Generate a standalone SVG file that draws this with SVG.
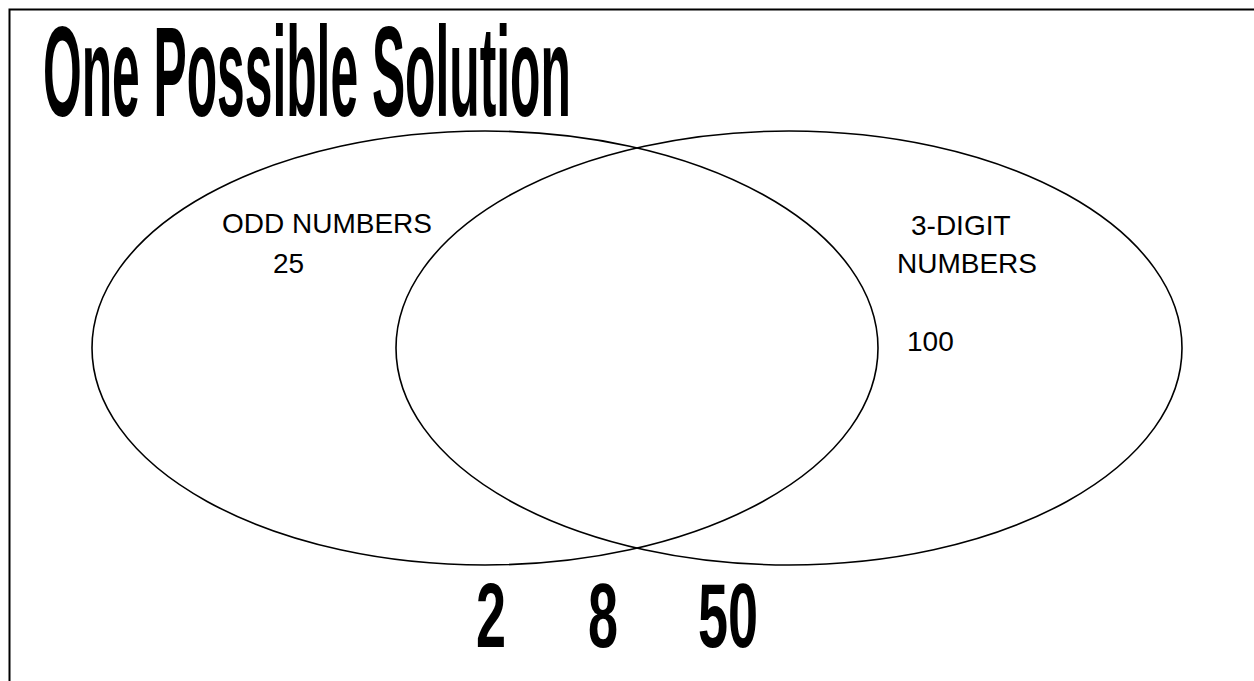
<svg xmlns="http://www.w3.org/2000/svg" width="1254" height="681" viewBox="0 0 1254 681">
<style>
.t{font-family:"Liberation Sans",Arial,sans-serif;fill:#000}
.b{font-weight:bold}
.l{font-size:28px}
.e{fill:none;stroke:#000;stroke-width:1.6}
.frame{stroke:#000;stroke-width:2;fill:none}
</style>
<rect x="0" y="0" width="1254" height="681" fill="#fff"/>
<g id="frame"><path class="frame" d="M9.5 681 V9.5 H1254"/></g>
<g id="title"><text class="t b" font-size="128" transform="translate(43 116) scale(0.3886 1)">One Possible Solution</text></g>
<g id="odd-numbers">
<ellipse class="e" cx="485" cy="348" rx="393" ry="217"/>
<text class="t l" x="222" y="233">ODD NUMBERS</text>
<text class="t l" x="273" y="273">25</text>
</g>
<g id="three-digit-numbers">
<ellipse class="e" cx="789" cy="348" rx="393" ry="217"/>
<text class="t l" x="911" y="235">3-DIGIT</text>
<text class="t l" x="897" y="273">NUMBERS</text>
<text class="t l" x="907" y="351">100</text>
</g>
<g id="outside">
<text class="t b" font-size="90" transform="translate(476 647) scale(0.6 1)">2</text>
<text class="t b" font-size="90" transform="translate(588 647) scale(0.6 1)">8</text>
<text class="t b" font-size="90" transform="translate(698 647) scale(0.6 1)">50</text>
</g>
<g id="connectors"></g>
</svg>
